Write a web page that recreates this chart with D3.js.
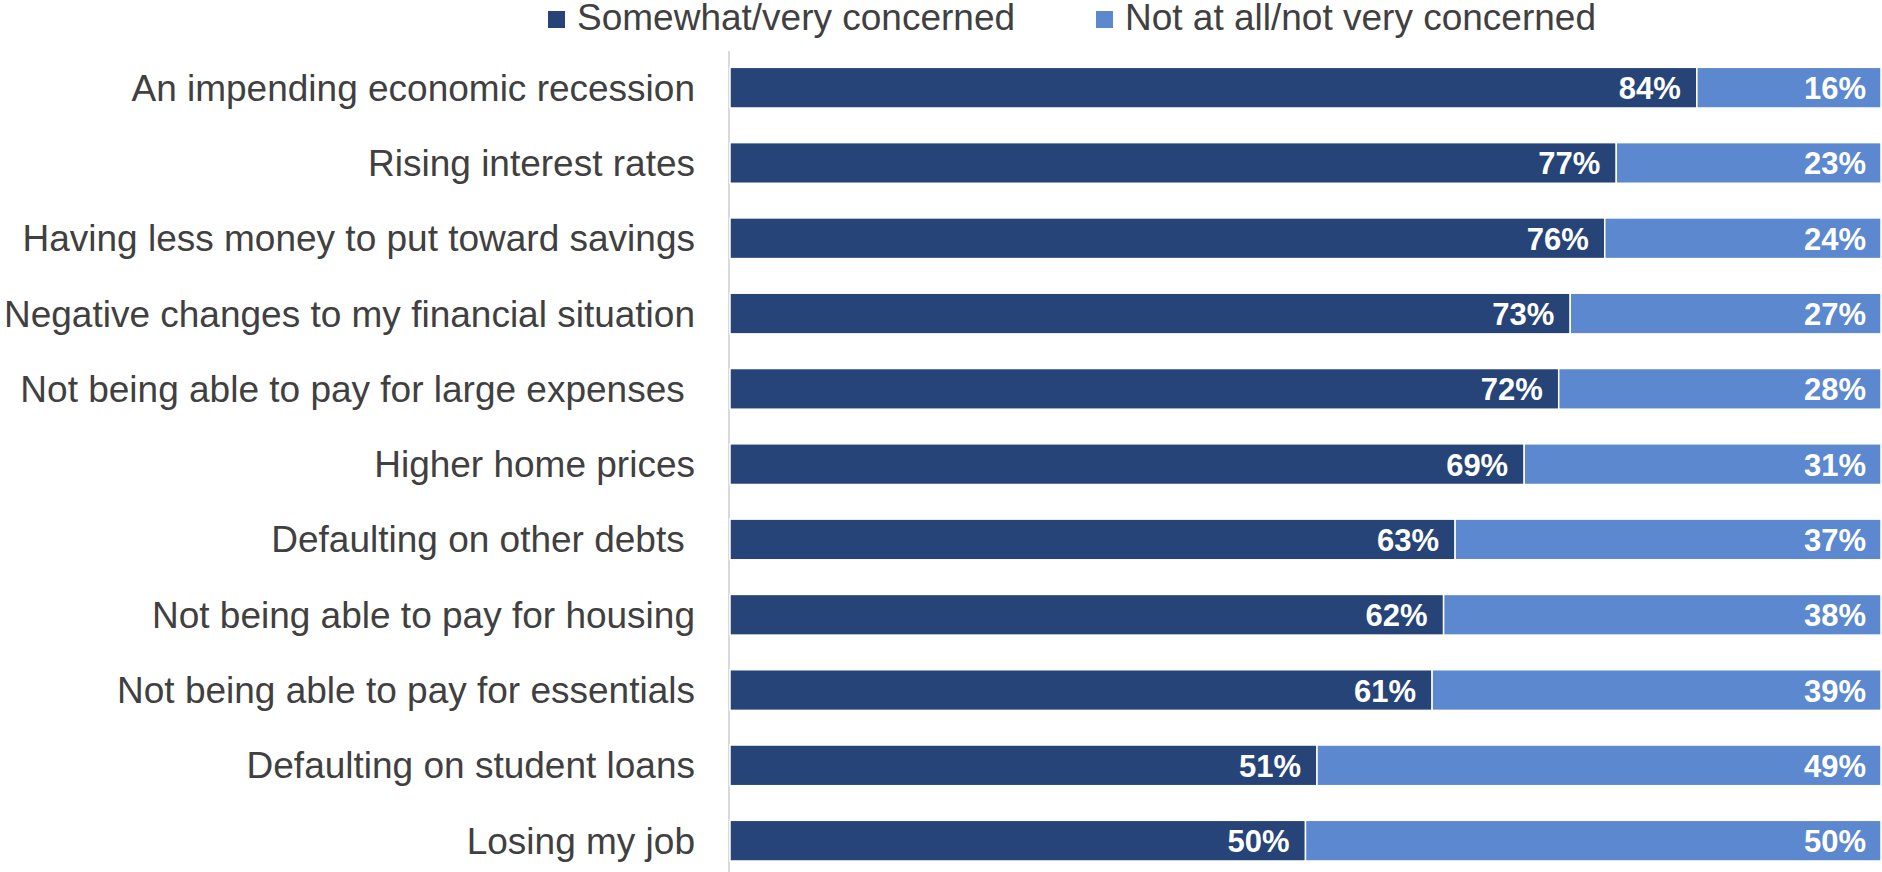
<!DOCTYPE html>
<html>
<head>
<meta charset="utf-8">
<script src="https://cdn.jsdelivr.net/npm/d3@7"></script>
<style>
  html, body { margin: 0; padding: 0; background: #ffffff; }
  svg { display: block; font-family: "Liberation Sans", Arial, sans-serif; }
  .cat { white-space: pre; }
</style>
</head>
<body>
<svg id="chart" width="1882" height="872"></svg>
<script>
// Concerns, ordered top to bottom
const categories = [
  "An impending economic recession",
  "Rising interest rates",
  "Having less money to put toward savings",
  "Negative changes to my financial situation",
  "Not being able to pay for large expenses ",
  "Higher home prices",
  "Defaulting on other debts ",
  "Not being able to pay for housing",
  "Not being able to pay for essentials",
  "Defaulting on student loans",
  "Losing my job"
];
const concerned    = [84, 77, 76, 73, 72, 69, 63, 62, 61, 51, 50];
const notConcerned = [16, 23, 24, 27, 28, 31, 37, 38, 39, 49, 50];
const seriesNames  = ["Somewhat/very concerned", "Not at all/not very concerned"];
const seriesColors = ["#264478", "#5B88CF"];

const svg = d3.select("#chart");

const x = d3.scaleLinear().domain([0, 100]).range([730, 1881]);
const y = d3.scaleBand()
  .domain(categories)
  .range([50, 50 + 11 * 75.3])
  .paddingInner(0.46)
  .paddingOuter(0.23);

// stacked rows
const rows = categories.map((c, i) => ({ cat: c, values: [concerned[i], notConcerned[i]] }));
const stack = d3.stack().keys([0, 1]).value((d, k) => d.values[k]);
const layers = stack(rows);

// vertical category axis line
svg.append("line")
  .attr("x1", x(0) - 1).attr("x2", x(0) - 1)
  .attr("y1", 51).attr("y2", 872)
  .attr("stroke", "#d9d9d9").attr("stroke-width", 2);

const layerG = svg.selectAll("g.layer")
  .data(layers)
  .join("g")
  .attr("class", "layer")
  .attr("fill", (d, i) => seriesColors[i]);

layerG.selectAll("rect")
  .data(d => d)
  .join("rect")
  .attr("x", d => x(d[0]))
  .attr("y", d => y(d.data.cat))
  .attr("width", d => x(d[1]) - x(d[0]))
  .attr("height", y.bandwidth())
  .attr("stroke", "#ffffff")
  .attr("stroke-width", 1.5);

// value labels, right-aligned inside each segment
layerG.selectAll("text")
  .data((d, li) => d.map(s => ({ s, li })))
  .join("text")
  .attr("x", d => x(d.s[1]) - (d.li === 0 ? 16 : 15))
  .attr("y", d => y(d.s.data.cat) + y.bandwidth() / 2)
  .attr("dy", "0.37em")
  .attr("text-anchor", "end")
  .attr("fill", "#ffffff")
  .attr("font-weight", "bold")
  .attr("font-size", 31)
  .text(d => d.s.data.values[d.li] + "%");

// category labels
svg.append("g")
  .selectAll("text")
  .data(categories)
  .join("text")
  .attr("class", "cat")
  .attr("x", 695)
  .attr("y", d => y(d) + y.bandwidth() / 2)
  .attr("dy", "0.35em")
  .attr("text-anchor", "end")
  .attr("fill", "#404040")
  .attr("font-size", 37)
  .text(d => d);

// legend
const legendX = [548, 1096];
const legend = svg.append("g")
  .selectAll("g")
  .data(seriesNames)
  .join("g")
  .attr("transform", (d, i) => `translate(${legendX[i]},0)`);
legend.append("rect")
  .attr("x", 0).attr("y", 11)
  .attr("width", 17).attr("height", 17)
  .attr("fill", (d, i) => seriesColors[i]);
legend.append("text")
  .attr("x", 29).attr("y", 30)
  .attr("fill", "#404040")
  .attr("font-size", 37)
  .text(d => d);
</script>
</body>
</html>
